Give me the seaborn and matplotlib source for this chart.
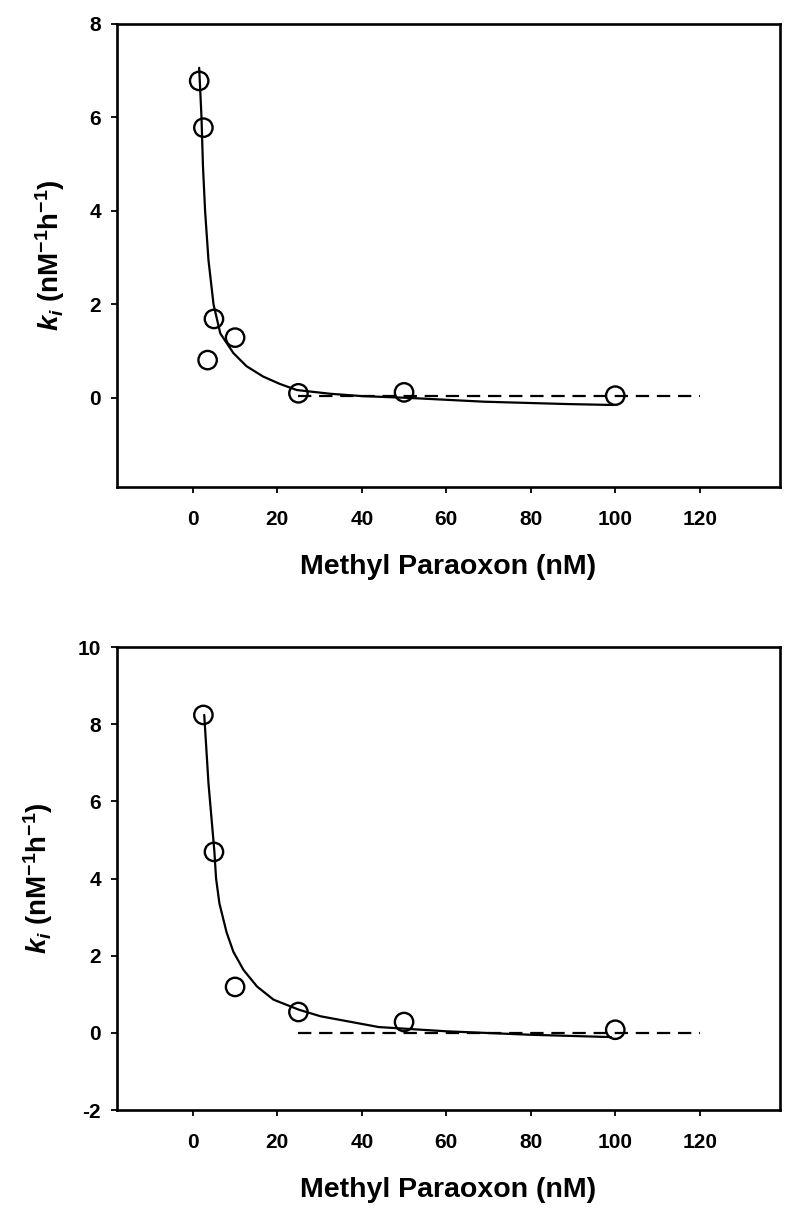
import numpy as np
import pandas as pd
import seaborn as sns
from matplotlib import pyplot as plt

# top panel: measured points
top_x = [1.5, 2.5, 3.5, 5, 10, 25, 50, 100]
top_y = [6.78, 5.78, 0.81, 1.69, 1.29, 0.10, 0.12, 0.05]
# top panel: fitted curve
top_fit_x = [1.5, 2.05, 2.4, 2.9, 3.7, 4.9, 6.5, 9.6, 12.7, 16.6, 20.6, 24.6, 32.5, 40, 51.5, 69, 88.6, 99.5]
top_fit_y = [7.06, 6.0, 4.95, 4.0, 2.95, 2.0, 1.38, 0.96, 0.68, 0.46, 0.30, 0.17, 0.09, 0.04, 0.0, -0.08, -0.13, -0.15]
top_base_x = [25, 120]
top_base_y = [0.05, 0.05]

# bottom panel
bot_x = [2.5, 5, 10, 25, 50, 100]
bot_y = [8.24, 4.69, 1.19, 0.54, 0.28, 0.08]
bot_fit_x = [2.7, 3.7, 5.1, 5.5, 6.3, 8.0, 9.6, 12.0, 15.2, 19.1, 25.1, 30.2, 44, 60, 80, 99]
bot_fit_y = [8.24, 6.47, 4.7, 4.0, 3.35, 2.6, 2.1, 1.63, 1.2, 0.86, 0.6, 0.43, 0.15, 0.04, -0.05, -0.11]
bot_base_x = [25, 120]
bot_base_y = [0.0, 0.0]

x_ticks = [0, 20, 40, 60, 80, 100, 120]
top_yticks = [0, 2, 4, 6, 8]
bot_yticks = [-2, 0, 2, 4, 6, 8, 10]

sns.set_style("ticks")
plt.rcParams['font.family'] = ['Liberation Sans', 'DejaVu Sans']
plt.rcParams['font.weight'] = 'bold'
plt.rcParams['text.color'] = 'black'
plt.rcParams['axes.labelcolor'] = 'black'
plt.rcParams['xtick.color'] = 'black'
plt.rcParams['ytick.color'] = 'black'
plt.rcParams['axes.unicode_minus'] = False
plt.rcParams['mathtext.fontset'] = 'custom'
plt.rcParams['mathtext.rm'] = 'Liberation Sans:bold'
plt.rcParams['mathtext.bf'] = 'Liberation Sans:bold'
plt.rcParams['mathtext.it'] = 'Liberation Sans:bold:italic'

fig = plt.figure(figsize=(8, 12.11), dpi=100)
ax1 = fig.add_axes([0.146, 0.598, 0.829, 0.3823])
ax2 = fig.add_axes([0.146, 0.0834, 0.829, 0.3823])

panels = [
    (ax1, top_x, top_y, top_fit_x, top_fit_y, top_base_x, top_base_y, (-1.9, 8), top_yticks),
    (ax2, bot_x, bot_y, bot_fit_x, bot_fit_y, bot_base_x, bot_base_y, (-2, 10), bot_yticks),
]

for ax, px, py, fx, fy, bx, by, ylim, yt in panels:
    fit = pd.DataFrame({"x": fx, "y": fy})
    base = pd.DataFrame({"x": bx, "y": by})
    pts = pd.DataFrame({"x": px, "y": py})
    sns.lineplot(data=fit, x="x", y="y", ax=ax, color="black", lw=1.6,
                 sort=False, estimator=None)
    sns.lineplot(data=base, x="x", y="y", ax=ax, color="black", lw=1.6,
                 estimator=None).lines[-1].set_dashes((6, 3.5))
    sns.scatterplot(data=pts, x="x", y="y", ax=ax, marker="o", s=175,
                    facecolor="none", edgecolor="black", linewidth=1.7, zorder=5)
    ax.set_xlim(-18, 139)
    ax.set_ylim(*ylim)
    ax.set_xticks(x_ticks)
    ax.set_yticks(yt)
    ax.tick_params(direction="out", length=4.5, width=1.3, labelsize=15)
    ax.tick_params(axis="x", pad=12)
    ax.tick_params(axis="y", pad=7)
    for sp in ax.spines.values():
        sp.set_linewidth(1.9)
        sp.set_color("black")
    for lab in ax.get_xticklabels() + ax.get_yticklabels():
        lab.set_fontweight("bold")
    ax.set_xlabel("Methyl Paraoxon (nM)", fontsize=20.5, fontweight="bold", labelpad=18)
    ax.set_ylabel(r"$k_i$ (nM$^{-1}$h$^{-1}$)", fontsize=20, fontweight="bold", labelpad=16)

fig.savefig("out.png", dpi=100)
